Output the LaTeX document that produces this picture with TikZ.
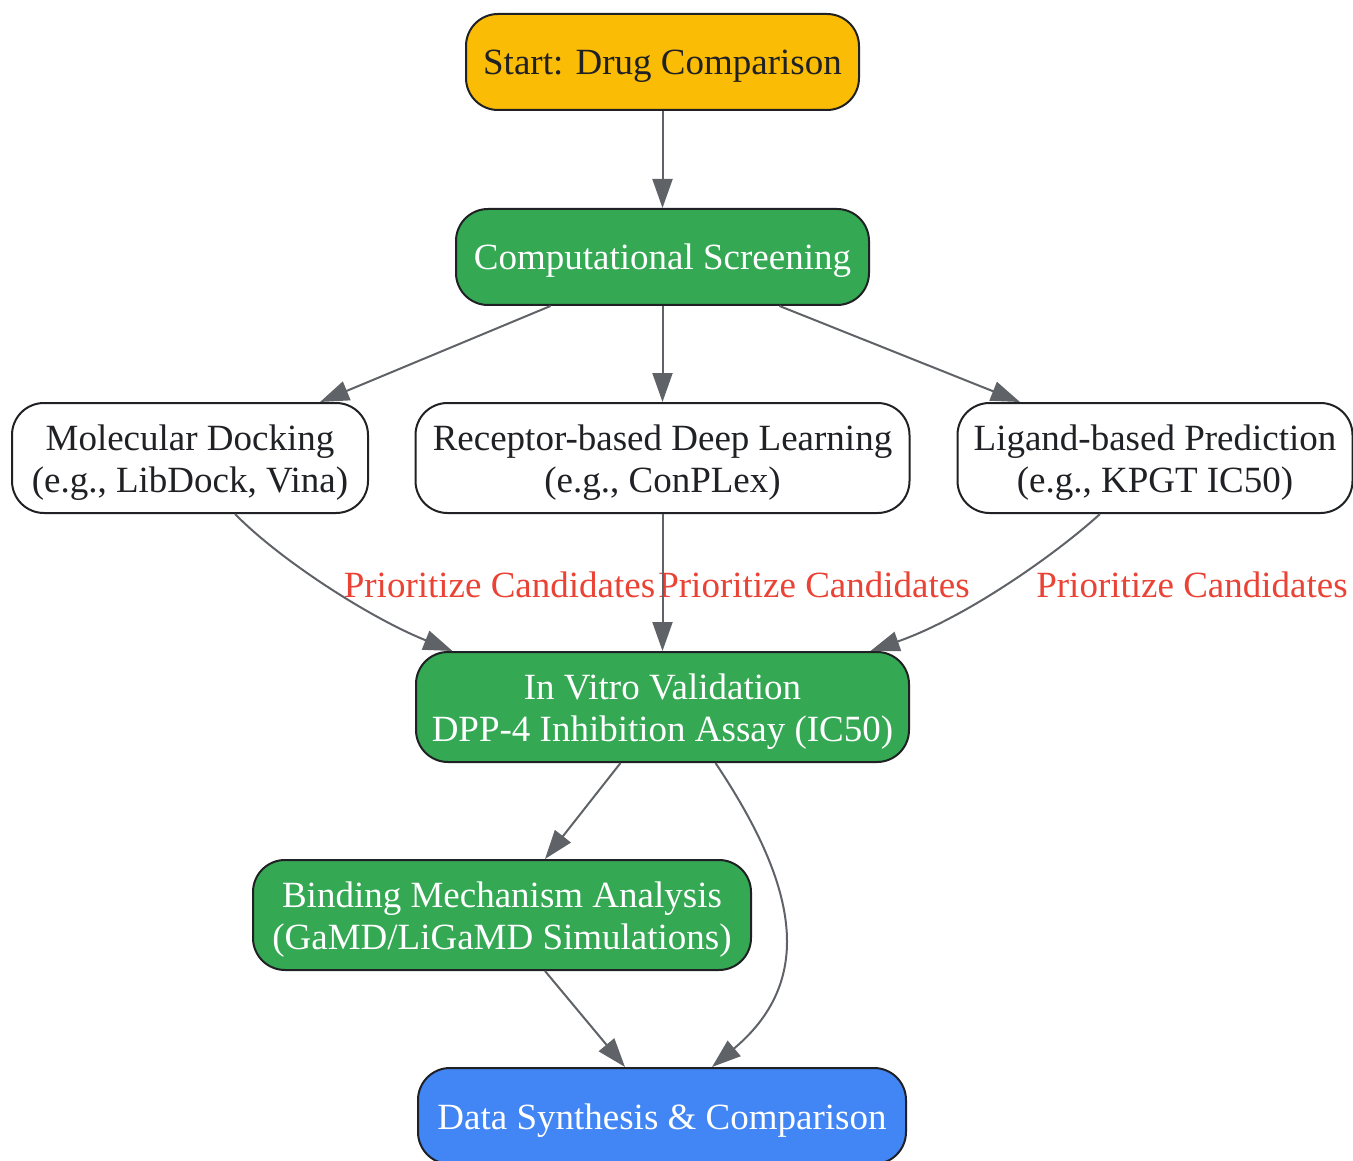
\documentclass[tikz,border=0pt]{standalone}
\usepackage{fontspec}
\setmainfont{Liberation Serif}
\usetikzlibrary{arrows.meta}
\definecolor{cyellow}{HTML}{FBBC05}
\definecolor{cgreen}{HTML}{34A853}
\definecolor{cblue}{HTML}{4285F4}
\definecolor{cred}{HTML}{EA4335}
\definecolor{cedge}{HTML}{5F6368}
\definecolor{cborder}{HTML}{202124}
\newcommand\mytopstrut{\rule{0pt}{36pt}}
\newcommand\mybotstrut{\rule[-10pt]{0pt}{10pt}}
\begin{document}
\begin{tikzpicture}[x=1pt,y=-1pt,
  box/.style={draw=cborder,line width=2pt,rounded corners=32pt,inner sep=0pt,
    align=center,font=\fontsize{37}{42}\selectfont,text=cborder},
  gbox/.style={box,fill=cgreen,text=white},
  edge/.style={draw=cedge,line width=2pt,-{Triangle[length=29pt,width=20pt]}},
  elabel/.style={inner sep=0pt,text=cred,font=\fontsize{37}{42}\selectfont}]
\useasboundingbox (0,0) rectangle (1353,1161);
\node[box,fill=cyellow,minimum width=393pt,minimum height=96pt] (start) at (662.5,62) {\mytopstrut Start: Drug Comparison\mybotstrut};
\node[gbox,minimum width=413pt,minimum height=96pt] (comp) at (662.5,257) {\mytopstrut Computational Screening\mybotstrut};
\node[box,fill=white,minimum width=356pt,minimum height=110pt] (mol) at (190,458) {\mytopstrut Molecular Docking\\(e.g., LibDock, Vina)\mybotstrut};
\node[box,fill=white,minimum width=494pt,minimum height=110pt] (rec) at (662.5,458) {\mytopstrut Receptor-based Deep Learning\\(e.g., ConPLex)\mybotstrut};
\node[box,fill=white,minimum width=395pt,minimum height=110pt] (lig) at (1155,458) {\mytopstrut Ligand-based Prediction\\(e.g., KPGT IC50)\mybotstrut};
\node[gbox,minimum width=493pt,minimum height=110pt] (vitro) at (662.5,707) {\mytopstrut In Vitro Validation\\DPP-4 Inhibition Assay (IC50)\mybotstrut};
\node[gbox,minimum width=498pt,minimum height=110pt] (bind) at (502,915) {\mytopstrut Binding Mechanism Analysis\\(GaMD/LiGaMD Simulations)\mybotstrut};
\node[box,fill=cblue,text=white,minimum width=488pt,minimum height=96pt] (data) at (662,1116) {\mytopstrut Data Synthesis \& Comparison\mybotstrut};

\node[elabel] (l1) at (499.5,585) {Prioritize Candidates};
\node[elabel] (l2) at (814,585) {Prioritize Candidates};
\node[elabel] (l3) at (1192,585) {Prioritize Candidates};

\draw[edge] (start.south) -- (comp.north);
\draw[edge] ([xshift=-112pt]comp.south) -- ([xshift=130pt]mol.north);
\draw[edge] (comp.south) -- (rec.north);
\draw[edge] ([xshift=117pt]comp.south) -- ([xshift=-135pt]lig.north);
\draw[edge] ([xshift=45pt]mol.south) .. controls (280,560) and (370,618) .. ([xshift=-210pt]vitro.north);
\draw[edge] (rec.south) -- (vitro.north);
\draw[edge] ([xshift=-55pt]lig.south) .. controls (1055,555) and (965,618) .. ([xshift=208pt]vitro.north);
\draw[edge] ([xshift=-42pt]vitro.south) -- ([xshift=43pt]bind.north);
\draw[edge] ([xshift=43pt]bind.south) -- ([xshift=-37pt]data.north);
\draw[edge] ([xshift=53pt]vitro.south) .. controls (795,882) and (818,978) .. ([xshift=50pt]data.north);
\end{tikzpicture}
\end{document}
